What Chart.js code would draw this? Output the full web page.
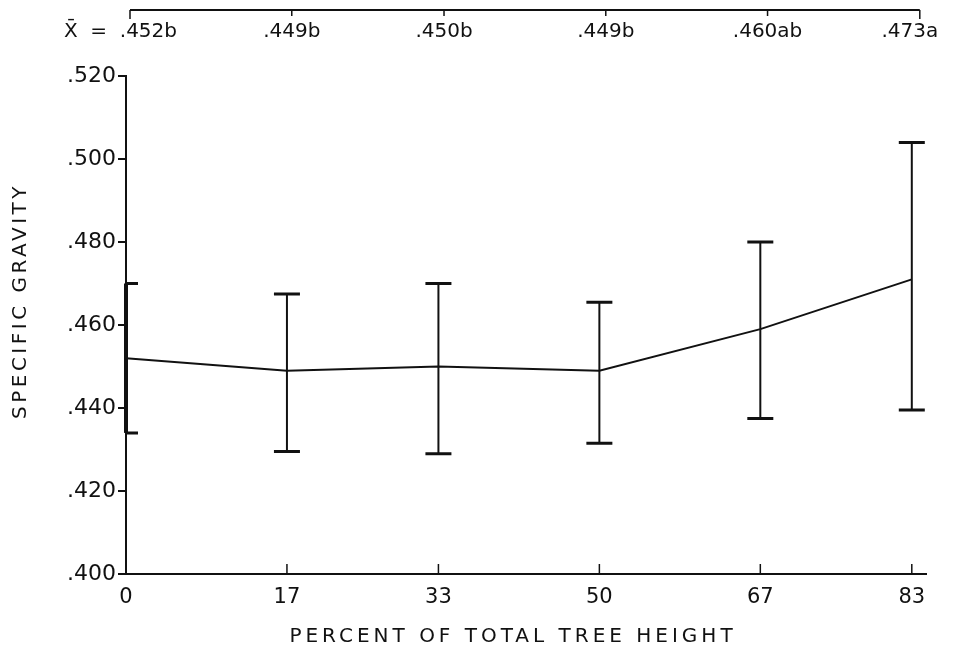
<!DOCTYPE html>
<html lang="en">
<head>
    <meta charset="UTF-8">
    <title>Specific gravity by tree height</title>
    <style>
        body {
            margin: 0;
            padding: 0;
            background: #fff;
        }

        #wrap {
            width: 962px;
            height: 655px;
            position: relative;
        }
    </style>
    <script src="https://cdn.jsdelivr.net/npm/chart.js"></script>
</head>
<body>
    <div id="wrap"><canvas id="gravityChart"></canvas></div>
    <script>
        // Values
        const heights = [0, 17, 33, 50, 67, 83];
        const heightLabels = ['0', '17', '33', '50', '67', '83'];
        const meanGravity = [0.452, 0.449, 0.450, 0.449, 0.459, 0.471];
        const upperGravity = [0.470, 0.4675, 0.470, 0.4655, 0.480, 0.504];
        const lowerGravity = [0.434, 0.4295, 0.429, 0.4315, 0.4375, 0.4395];
        const meanLabels = ['.452b', '.449b', '.450b', '.449b', '.460ab', '.473a'];
        const yTicks = [0.400, 0.420, 0.440, 0.460, 0.480, 0.500, 0.520];
        const yTickLabels = ['.400', '.420', '.440', '.460', '.480', '.500', '.520'];
        const xTitle = 'PERCENT OF TOTAL TREE HEIGHT';
        const yTitle = 'SPECIFIC GRAVITY';

        const ink = '#111';
        const fontFamily = '"DejaVu Sans", sans-serif';

        // error bars, inner x ticks, axis titles and the top bracket with the means
        const extras = {
            id: 'extras',
            afterDatasetsDraw(chart) {
                const ctx = chart.ctx;
                const xs = chart.scales.x;
                const ys = chart.scales.y;
                const area = chart.chartArea;
                ctx.save();
                ctx.strokeStyle = ink;
                ctx.fillStyle = ink;
                ctx.lineCap = 'butt';

                heights.forEach((h, i) => {
                    const x = xs.getPixelForValue(h);
                    const top = ys.getPixelForValue(upperGravity[i]);
                    const bot = ys.getPixelForValue(lowerGravity[i]);
                    ctx.beginPath();
                    ctx.lineWidth = i === 0 ? 4 : 2;
                    ctx.moveTo(x, top);
                    ctx.lineTo(x, bot);
                    ctx.stroke();
                    ctx.lineWidth = 3;
                    ctx.beginPath();
                    if (i === 0) {
                        ctx.moveTo(x, top); ctx.lineTo(x + 12, top);
                        ctx.moveTo(x, bot); ctx.lineTo(x + 12, bot);
                    } else {
                        ctx.moveTo(x - 13, top); ctx.lineTo(x + 13, top);
                        ctx.moveTo(x - 13, bot); ctx.lineTo(x + 13, bot);
                    }
                    ctx.stroke();

                    // small ticks pointing into the plot
                    if (i > 0) {
                        ctx.lineWidth = 1.5;
                        ctx.beginPath();
                        ctx.moveTo(x, area.bottom);
                        ctx.lineTo(x, area.bottom - 10);
                        ctx.stroke();
                    }
                });

                // top bracket
                const first = xs.getPixelForValue(heights[0]);
                const last = xs.getPixelForValue(heights[heights.length - 1]);
                const x0 = first + 4;
                const x1 = last + 8;
                ctx.lineWidth = 2;
                ctx.beginPath();
                ctx.moveTo(x0, 10);
                ctx.lineTo(x1, 10);
                ctx.stroke();
                ctx.lineWidth = 1.5;
                ctx.font = '20px ' + fontFamily;
                ctx.textBaseline = 'middle';
                heights.forEach((h, i) => {
                    const x = x0 + (xs.getPixelForValue(h) - first) * (x1 - x0) / (last - first);
                    const end = i === 0 || i === heights.length - 1;
                    ctx.beginPath();
                    ctx.moveTo(x, 10);
                    ctx.lineTo(x, end ? 19 : 16);
                    ctx.stroke();
                    if (i === 0) {
                        ctx.textAlign = 'right';
                        ctx.fillText('X\u0304  =  ' + meanLabels[i], x + 47, 32);
                    } else if (i === heights.length - 1) {
                        ctx.textAlign = 'center';
                        ctx.fillText(meanLabels[i], x - 10, 32);
                    } else {
                        ctx.textAlign = 'center';
                        ctx.fillText(meanLabels[i], x, 32);
                    }
                });

                // axis titles, widely lettered
                ctx.font = '20px ' + fontFamily;
                ctx.textAlign = 'center';
                ctx.letterSpacing = '4px';
                ctx.fillText(xTitle, (area.left + area.right) / 2 - 13, 637);
                ctx.letterSpacing = '3.5px';
                ctx.translate(21, (area.top + area.bottom) / 2 - 24);
                ctx.rotate(-Math.PI / 2);
                ctx.fillText(yTitle, 0, 0);
                ctx.restore();
            }
        };

        new Chart(document.getElementById('gravityChart').getContext('2d'), {
            type: 'line',
            data: {
                datasets: [{
                    data: heights.map((h, i) => ({ x: h, y: meanGravity[i] })),
                    borderColor: ink,
                    borderWidth: 2,
                    pointRadius: 0,
                    tension: 0,
                    fill: false
                }]
            },
            options: {
                responsive: true,
                maintainAspectRatio: false,
                animation: false,
                layout: { padding: { top: 76, right: 36, left: 0, bottom: 0 } },
                plugins: {
                    legend: { display: false },
                    tooltip: { enabled: false }
                },
                scales: {
                    x: {
                        type: 'linear',
                        min: 0,
                        max: 84.5,
                        afterBuildTicks: s => { s.ticks = heights.map(v => ({ value: v })); },
                        afterFit: s => { s.height = 81; },
                        grid: { display: false },
                        border: { display: true, color: ink, width: 2 },
                        ticks: {
                            color: ink,
                            font: { family: fontFamily, size: 21 },
                            padding: 3,
                            maxRotation: 0,
                            callback: (v) => heightLabels[heights.indexOf(v)]
                        }
                    },
                    y: {
                        min: 0.400,
                        max: 0.520,
                        afterBuildTicks: s => { s.ticks = yTicks.map(v => ({ value: v })); },
                        afterFit: s => { s.width = 126; },
                        grid: {
                            drawOnChartArea: false,
                            drawTicks: true,
                            tickLength: 8,
                            color: ink,
                            lineWidth: 2
                        },
                        border: { display: true, color: ink, width: 2 },
                        ticks: {
                            color: ink,
                            font: { family: fontFamily, size: 22 },
                            padding: 2,
                            callback: (v) => yTickLabels[yTicks.indexOf(v)]
                        }
                    }
                }
            },
            plugins: [extras]
        });
    </script>
</body>
</html>
